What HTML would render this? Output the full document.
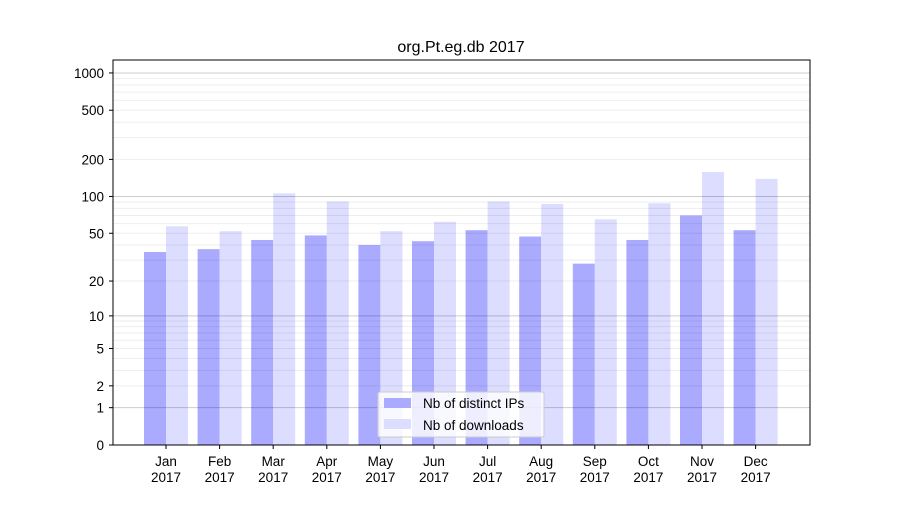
<!DOCTYPE html>
<html><head><meta charset="utf-8"><style>
body{margin:0;background:#fff;}
svg text{font-family:"Liberation Sans","DejaVu Sans",sans-serif;}
</style></head><body>
<svg id="chart" width="900" height="500" viewBox="0 0 900 500">
<rect width="900" height="500" fill="#fff"/>
<text x="461" y="52" font-size="16" text-anchor="middle">org.Pt.eg.db 2017</text>
<g id="bars"></g>
<g id="grid"></g>
<rect x="113" y="60" width="697" height="385" fill="none" stroke="#000" stroke-width="1"/>
<g id="axes"></g>
<g>
<rect x="378" y="392" width="166" height="45" fill="#fff" fill-opacity="0.8" stroke="#ccc" rx="2"/>
<rect x="384" y="398" width="27" height="10" fill="#aaaaff"/>
<text x="423" y="408" font-size="13.5">Nb of distinct IPs</text>
<rect x="384" y="419" width="27" height="10" fill="#ddddff"/>
<text x="423" y="430" font-size="13.5">Nb of downloads</text>
</g>
</svg>
<script>
const months=["Jan","Feb","Mar","Apr","May","Jun","Jul","Aug","Sep","Oct","Nov","Dec"];
const ips=[35,37,44,48,40,43,53,47,28,44,70,53];
const downloads=[57,52,106,91,52,62,91,87,65,88,158,139];
const yTicks=[0,1,2,5,10,20,50,100,200,500,1000];
const NS="http://www.w3.org/2000/svg";
function y(v){return 445-124*Math.log10(1+v);}
function xc(i){return 166+i*53.6;}
function mk(tag,attrs,parent){const e=document.createElementNS(NS,tag);for(const k in attrs)e.setAttribute(k,attrs[k]);parent.appendChild(e);return e;}
const grid=document.getElementById('grid'),bars=document.getElementById('bars'),axes=document.getElementById('axes');
for(let d=1;d<=100;d*=10){for(let m=2;m<=9;m++){const v=m*d;const l=mk('line',{x1:113,x2:810,y1:y(v),y2:y(v),stroke:'#000','stroke-opacity':0.07,'stroke-width':1},grid);

}}
[1,10,100,1000].forEach(v=>{const l=mk('line',{x1:113,x2:810,y1:y(v),y2:y(v),stroke:'#000','stroke-opacity':0.2,'stroke-width':1},grid);

});
months.forEach((m,i)=>{
const a=mk('rect',{x:xc(i)-22,y:y(ips[i]),width:22,height:445-y(ips[i]),fill:'#aaaaff'},bars);


const b=mk('rect',{x:xc(i),y:y(downloads[i]),width:22,height:445-y(downloads[i]),fill:'#ddddff'},bars);


mk('line',{x1:xc(i),x2:xc(i),y1:445,y2:449,stroke:'#000'},axes);
const t=mk('text',{x:xc(i),y:466,'font-size':13.5,'text-anchor':'middle'},axes);
t.textContent=m;


const t2=mk('text',{x:xc(i),y:482,'font-size':13.5,'text-anchor':'middle'},axes);
t2.textContent='2017';


});
yTicks.forEach(v=>{
mk('line',{x1:109,x2:113,y1:y(v),y2:y(v),stroke:'#000'},axes);
const t=mk('text',{x:104,y:y(v)+5,'font-size':13.5,'text-anchor':'end'},axes);
t.textContent=v;


});
</script>
</body></html>
